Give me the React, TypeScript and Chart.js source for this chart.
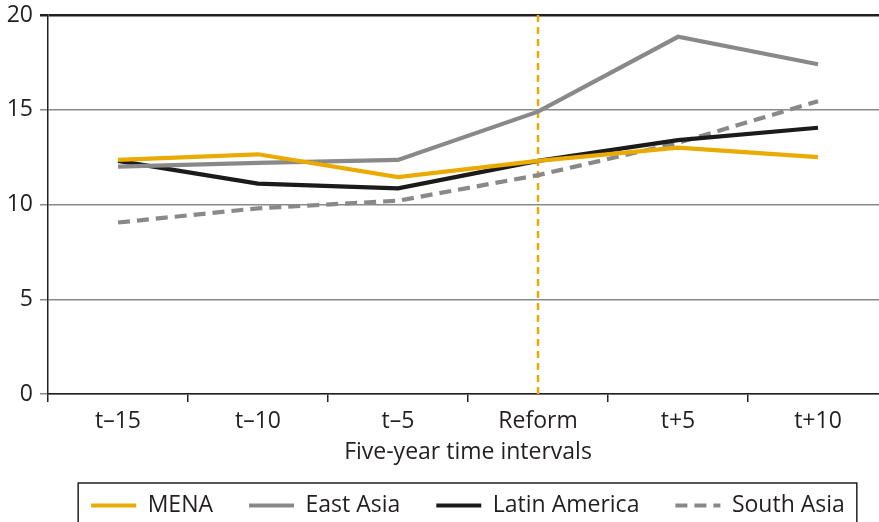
import React, { useEffect, useRef } from 'react';
import { Chart, registerables } from 'chart.js';

Chart.register(...registerables);

const categories = ['t–15', 't–10', 't–5', 'Reform', 't+5', 't+10'];
const mena = [12.35, 12.65, 11.45, 12.3, 13.0, 12.5];
const eastAsia = [12.0, 12.2, 12.35, 14.9, 18.85, 17.4];
const latinAmerica = [12.3, 11.1, 10.85, 12.3, 13.4, 14.05];
const southAsia = [9.05, 9.8, 10.2, 11.55, 13.25, 15.45];
const yTicks = [0, 5, 10, 15, 20];
const reformCategory = 'Reform';
const xTitle = 'Five-year time intervals';

const FONT = '"Open Sans", sans-serif';
const FS = 23;
const TEXT = '#231f20';
const ORANGE = '#e9ab00';
const GRAY = '#898989';
const BLACK = '#1c1a1b';

const reformLine = {
  id: 'reformLine',
  beforeDatasetsDraw(chart: any) {
    const { ctx, chartArea, scales } = chart;
    const x = scales.x.getPixelForValue(categories.indexOf(reformCategory));
    ctx.save();
    ctx.strokeStyle = ORANGE;
    ctx.lineWidth = 2.5;
    ctx.setLineDash([7, 5]);
    ctx.beginPath();
    ctx.moveTo(x, chartArea.top);
    ctx.lineTo(x, chartArea.bottom);
    ctx.stroke();
    ctx.restore();
  },
};

// centre the legend under the plot area rather than the whole canvas
const legendCentre = {
  id: 'legendCentre',
  afterLayout(chart: any) {
    if (chart.legend) chart.legend.left = chart.chartArea.left;
  },
};

const legendBox = {
  id: 'legendBox',
  afterDraw(chart: any) {
    const hb = chart.legend?.legendHitBoxes;
    if (!hb || !hb.length) return;
    const { ctx } = chart;
    const left = Math.min(...hb.map((h: any) => h.left)) - 13;
    const right = Math.max(...hb.map((h: any) => h.left + h.width)) + 12;
    const top = hb[0].top - 11;
    ctx.save();
    ctx.strokeStyle = TEXT;
    ctx.lineWidth = 1.5;
    ctx.strokeRect(left, top, right - left, 80);
    ctx.restore();
  },
};

export default function App() {
  const ref = useRef<HTMLCanvasElement | null>(null);
  useEffect(() => {
    if (!ref.current) return;
    const mk = (label: string, data: number[], color: string, dash: number[] = []) => ({
      label,
      data,
      borderColor: color,
      backgroundColor: color,
      borderWidth: 4.2,
      borderDash: dash,
      pointRadius: 0,
      tension: 0,
      fill: false,
    });
    const chart = new Chart(ref.current, {
      type: 'line',
      data: {
        labels: categories,
        datasets: [
          mk('MENA', mena, ORANGE),
          mk('East Asia', eastAsia, GRAY),
          mk('Latin America', latinAmerica, BLACK),
          mk('South Asia', southAsia, GRAY, [12, 7]),
        ],
      },
      options: {
        animation: false,
        responsive: false,
        maintainAspectRatio: false,
        layout: { padding: { left: 0, right: 12, top: 15, bottom: 0 } },
        plugins: {
          tooltip: { enabled: false },
          legend: {
            position: 'bottom',
            labels: {
              usePointStyle: true,
              pointStyle: 'line',
              pointStyleWidth: 45,
              boxHeight: FS,
              padding: 36,
              color: TEXT,
              font: { family: FONT, size: FS },
              generateLabels: (chart: any) => {
                const items = (Chart as any).defaults.plugins.legend.labels.generateLabels(chart);
                items.forEach((it: any) => {
                  const ds = chart.data.datasets[it.datasetIndex];
                  it.lineDash = ds.borderDash || [];
                  it.lineWidth = ds.borderWidth;
                  it.strokeStyle = ds.borderColor;
                  it.fillStyle = ds.borderColor;
                  it.pointStyle = 'line';
                });
                return items;
              },
            },
          },
        },
        scales: {
          x: {
            type: 'category',
            offset: true,
            afterFit: (s: any) => { s.height = 64; },
            grid: {
              offset: true,
              display: true,
              drawOnChartArea: false,
              drawTicks: true,
              tickLength: 8,
              color: TEXT,
              lineWidth: 1.5,
            },
            border: { display: true, color: TEXT, width: 1.5 },
            ticks: {
              color: TEXT,
              font: { family: FONT, size: FS },
              padding: 6,
              maxRotation: 0,
              autoSkip: false,
            },
            title: {
              display: true,
              text: xTitle,
              color: TEXT,
              font: { family: FONT, size: FS },
              padding: { top: 0, bottom: -8 },
            },
          },
          y: {
            min: 0,
            max: 20,
            afterFit: (s: any) => { s.width = 48; s.paddingTop = 0; s.paddingBottom = 0; },
            afterBuildTicks: (s: any) => { s.ticks = yTicks.map((v) => ({ value: v })); },
            grid: {
              drawTicks: true,
              tickLength: 8,
              color: (c: any) => (c.tick && c.tick.value === 20 ? TEXT : GRAY),
              lineWidth: (c: any) => (c.tick && c.tick.value === 20 ? 2.5 : 1.5),
            },
            border: { display: true, color: TEXT, width: 1.5 },
            ticks: {
              color: TEXT,
              font: { family: FONT, size: FS },
              padding: 7,
            },
          },
        },
      },
      plugins: [reformLine, legendCentre, legendBox],
    } as any);
    return () => chart.destroy();
  }, []);
  return (
    <div style={{ position: 'fixed', left: 0, top: 0, width: 900, height: 527 }}>
      <canvas ref={ref} width={900} height={527} style={{ width: 900, height: 527, display: 'block' }} />
    </div>
  );
}
